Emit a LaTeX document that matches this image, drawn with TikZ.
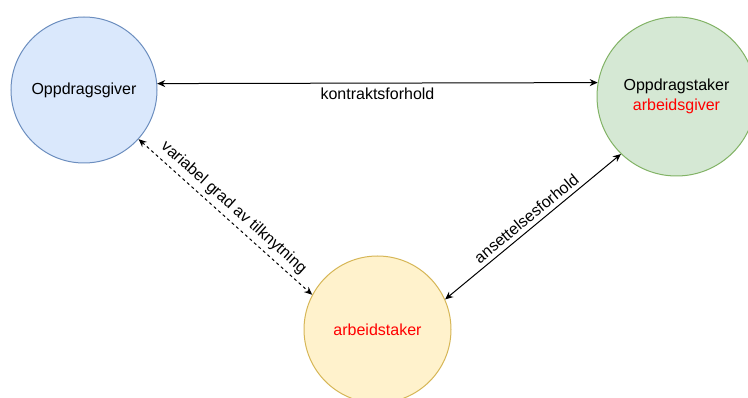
\documentclass[tikz,border=0pt]{standalone}
\usepackage{fontspec}
\setmainfont{Liberation Sans}
\usetikzlibrary{arrows.meta}

\definecolor{giverfill}{HTML}{DAE8FC}
\definecolor{giverline}{HTML}{6C8EBF}
\definecolor{takerfill}{HTML}{D5E8D4}
\definecolor{takerline}{HTML}{82B366}
\definecolor{stakerfill}{HTML}{FFF2CC}
\definecolor{stakerline}{HTML}{D6B656}
\definecolor{redtext}{HTML}{FF0000}

\begin{document}
\begin{tikzpicture}[x=1pt,y=-1pt,
        font=\fontsize{16}{20}\selectfont,
        party/.style={circle, draw, line width=1pt, inner sep=0pt, align=center},
        link/.style={{Stealth[length=8pt,width=7pt]}-{Stealth[length=8pt,width=7pt]}, line width=1pt}]
        \useasboundingbox (0,0) rectangle (748,398);

        \coordinate (P) at (84,90);
        \coordinate (T) at (676.5,96.5);
        \coordinate (S) at (377.5,329.5);

        \node[party, fill=giverfill, draw=giverline, minimum size=146pt] (giver) at (P) {Oppdragsgiver};
        \node[party, fill=takerfill, draw=takerline, minimum size=159pt] (taker) at (T) {Oppdragstaker\\\textcolor{redtext}{arbeidsgiver}};
        \node[party, fill=stakerfill, draw=stakerline, minimum size=147pt] (staker) at (S) {\textcolor{redtext}{arbeidstaker}};

        \draw[link] (giver.5.5) -- node[below=1pt]{kontraktsforhold} (taker.170);

        \draw[link, dash pattern=on 3pt off 3pt] (giver.-42) -- node[sloped, above=1pt]{variabel grad av tilknytning} (staker.152);
        \draw[link] (staker.24) -- node[sloped, above=1pt]{ansettelsesforhold} (taker.-134);
    \end{tikzpicture}
\end{document}
